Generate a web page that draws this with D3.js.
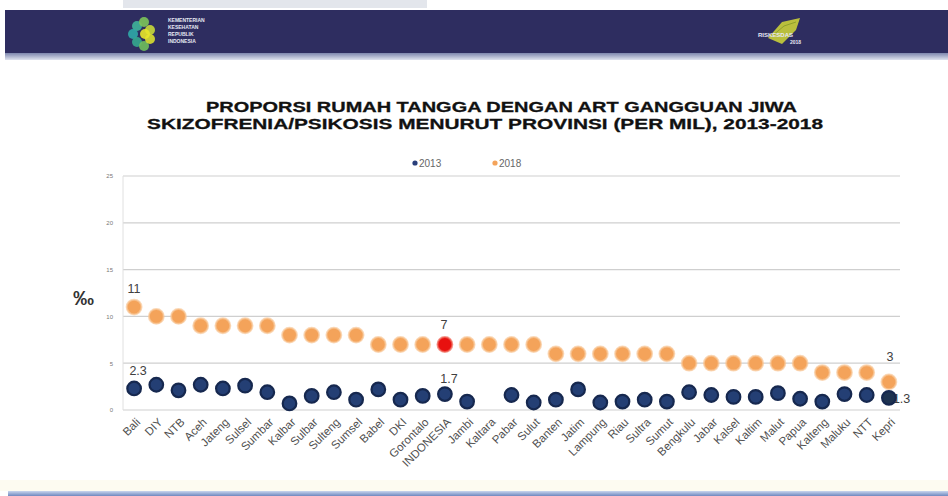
<!DOCTYPE html>
<html><head><meta charset="utf-8">
<script src="https://cdn.jsdelivr.net/npm/d3@7"></script>
<style>body{margin:0;background:#fff;}svg{display:block;font-family:"Liberation Sans",Arial,sans-serif;}</style>
</head><body>
<script>
const provinces = ["Bali","DIY","NTB","Aceh","Jateng","Sulsel","Sumbar","Kalbar","Sulbar","Sulteng","Sumsel","Babel","DKI","Gorontalo","INDONESIA","Jambi","Kaltara","Pabar","Sulut","Banten","Jatim","Lampung","Riau","Sultra","Sumut","Bengkulu","Jabar","Kalsel","Kaltim","Malut","Papua","Kalteng","Maluku","NTT","Kepri"];
const values2013 = [2.3,2.7,2.1,2.7,2.3,2.6,1.9,0.7,1.5,1.9,1.1,2.2,1.1,1.5,1.7,0.9,null,1.6,0.8,1.1,2.2,0.8,0.9,1.1,0.9,1.9,1.6,1.4,1.4,1.8,1.2,0.9,1.7,1.6,1.3];
const values2018 = [11,10,10,9,9,9,9,8,8,8,8,7,7,7,7,7,7,7,7,6,6,6,6,6,6,5,5,5,5,5,5,4,4,4,3];
const yTicks = [0,5,10,15,20,25];
const seriesNames = ["2013","2018"];
const titleLines = ["PROPORSI RUMAH TANGGA DENGAN ART GANGGUAN JIWA","SKIZOFRENIA/PSIKOSIS MENURUT PROVINSI (PER MIL), 2013-2018"];

const W=948,H=496;
const svg=d3.select("body").append("svg").attr("width",W).attr("height",H);
const defs=svg.append("defs");
const g1=defs.append("linearGradient").attr("id","stripe").attr("x1",0).attr("y1",0).attr("x2",0).attr("y2",1);
g1.append("stop").attr("offset","0%").attr("stop-color","#7d86ad");
g1.append("stop").attr("offset","100%").attr("stop-color","#dfe3ef");
const g2=defs.append("linearGradient").attr("id","foot").attr("x1",0).attr("y1",0).attr("x2",0).attr("y2",1);
g2.append("stop").attr("offset","0%").attr("stop-color","#c9d6ee");
g2.append("stop").attr("offset","100%").attr("stop-color","#6f88bf");

// top cut-off slide title area
svg.append("rect").attr("x",123).attr("y",0).attr("width",304).attr("height",8).attr("fill","#e3e6ec");

// header band
svg.append("rect").attr("x",5).attr("y",10).attr("width",W-5).attr("height",44).attr("fill","#2e2d60");
svg.append("rect").attr("x",5).attr("y",53).attr("width",W-5).attr("height",7).attr("fill","url(#stripe)");
// left logo
const lg=svg.append("g");
[[137,26,"#3fb39a"],[133,34,"#2fa9a8"],[137,42,"#35a88f"],[144,22,"#7cc45a"],[144,46,"#6fbf5d"],[150,30,"#c8d83a"],[150,39,"#d9df2f"],[145,34,"#e8e52a"]].forEach(d=>{
  lg.append("circle").attr("cx",d[0]).attr("cy",d[1]).attr("r",5).attr("fill",d[2]).attr("opacity",0.9);
});
["KEMENTERIAN","KESEHATAN","REPUBLIK","INDONESIA"].forEach((t,i)=>{
  lg.append("text").attr("x",168).attr("y",22+i*7).attr("font-size",5).attr("font-weight","bold").attr("fill","#e6e8f2").text(t);
});
// right logo
const rg=svg.append("g");
rg.append("path").attr("d","M768,38 L782,22 L800,18 L796,30 L782,44 Z").attr("fill","#c9cf3a").attr("opacity",0.9);
rg.append("path").attr("d","M772,36 L784,26 L796,22").attr("stroke","#8fa02a").attr("fill","none");
rg.append("text").attr("x",758).attr("y",37).attr("font-size",6).attr("font-weight","bold").attr("fill","#e8e8f4").text("RISKESDAS");
rg.append("text").attr("x",790).attr("y",44).attr("font-size",5).attr("font-weight","bold").attr("fill","#e8e8f4").text("2018");

// footer
svg.append("rect").attr("x",0).attr("y",480).attr("width",W).attr("height",11).attr("fill","#fdfbf1");
svg.append("rect").attr("x",8).attr("y",491).attr("width",W-8).attr("height",5).attr("fill","url(#foot)");

// title
const tx=[[206,112,591],[147,129,676]];
titleLines.forEach((t,i)=>{
  svg.append("text").attr("x",tx[i][0]).attr("y",tx[i][1]).attr("font-size",15.5).attr("font-weight","bold")
    .attr("fill","#111").attr("stroke","#111").attr("stroke-width",0.3)
    .attr("textLength",tx[i][2]).attr("lengthAdjust","spacingAndGlyphs").text(t);
});

// scales
const x=d3.scaleBand().domain(provinces).range([123,900]);
const y=d3.scaleLinear().domain([0,25]).range([410,176]);
const cx=d=>x(d)+x.bandwidth()/2;

// grid
svg.append("g").selectAll("line").data(yTicks).join("line")
  .attr("x1",123).attr("x2",900).attr("y1",d=>y(d)).attr("y2",d=>y(d))
  .attr("stroke","#cfcfcf").attr("stroke-width",1.2);
svg.append("line").attr("x1",123).attr("x2",123).attr("y1",176).attr("y2",410).attr("stroke","#e0e0e0");

// y axis
const yAxis=svg.append("g").attr("transform","translate(123,0)").call(d3.axisLeft(y).tickValues(yTicks).tickSize(0).tickPadding(10));
yAxis.select(".domain").remove();
yAxis.selectAll("text").attr("font-size",6).attr("fill","#777");
svg.append("text").attr("x",73).attr("y",305).attr("font-size",21).attr("font-weight","bold").attr("fill","#333").text("‰");

// x axis
const xAxis=svg.append("g").attr("transform","translate(0,410)").call(d3.axisBottom(x).tickSize(0));
xAxis.select(".domain").remove();
xAxis.selectAll("text").attr("font-size",11.5).attr("fill","#505050")
  .attr("text-anchor","end").attr("x",0).attr("y",0).attr("dy","0.35em")
  .attr("transform","translate(4,10) rotate(-45)");

// data labels (behind dots)
const lbl=svg.append("g").attr("font-size",12.5).attr("fill","#404040").attr("text-anchor","middle");
const idxB=0, idxI=provinces.indexOf("INDONESIA"), idxK=provinces.length-1;
lbl.append("text").attr("x",cx(provinces[idxB])).attr("y",y(values2018[idxB])-14).text(values2018[idxB]);
lbl.append("text").attr("x",cx(provinces[idxB])+4).attr("y",y(values2013[idxB])-13).text(values2013[idxB]);
lbl.append("text").attr("x",cx(provinces[idxI])-1).attr("y",y(values2018[idxI])-15).text(values2018[idxI]);
lbl.append("text").attr("x",cx(provinces[idxI])+4).attr("y",y(values2013[idxI])-11).text(values2013[idxI]);
lbl.append("text").attr("x",cx(provinces[idxK])+1).attr("y",y(values2018[idxK])-21).text(values2018[idxK]);
lbl.append("text").attr("x",cx(provinces[idxK])+4).attr("y",y(values2013[idxK])+5).attr("text-anchor","start").text(values2013[idxK]);

// dots
const d18=provinces.map((p,i)=>({p,v:values2018[i]}));
const d13=provinces.map((p,i)=>({p,v:values2013[i]})).filter(d=>d.v!==null);
svg.append("g").selectAll("circle").data(d18).join("circle")
  .attr("cx",d=>cx(d.p)).attr("cy",d=>y(d.v)).attr("r",7.4)
  .attr("fill",d=>d.p==="INDONESIA"?"#e8110f":"#f4a35a")
  .attr("stroke",d=>d.p==="INDONESIA"?"#f06a5a":"#f8c898").attr("stroke-width",2).attr("stroke-opacity",0.7);
svg.append("g").selectAll("circle").data(d13).join("circle")
  .attr("cx",d=>cx(d.p)).attr("cy",d=>y(d.v)).attr("r",6.8)
  .attr("fill",d=>d.p==="Kepri"?"#1e3350":"#243f74").attr("stroke","#16284f").attr("stroke-width",2.2);

// legend
const leg=svg.append("g").attr("font-size",10).attr("fill","#666");
leg.append("circle").attr("cx",415).attr("cy",163).attr("r",2.6).attr("fill","#2a3f7a");
leg.append("text").attr("x",419).attr("y",167).text(seriesNames[0]);
leg.append("circle").attr("cx",495).attr("cy",163).attr("r",2.6).attr("fill","#f4a35a");
leg.append("text").attr("x",499).attr("y",167).text(seriesNames[1]);
</script>
</body></html>
